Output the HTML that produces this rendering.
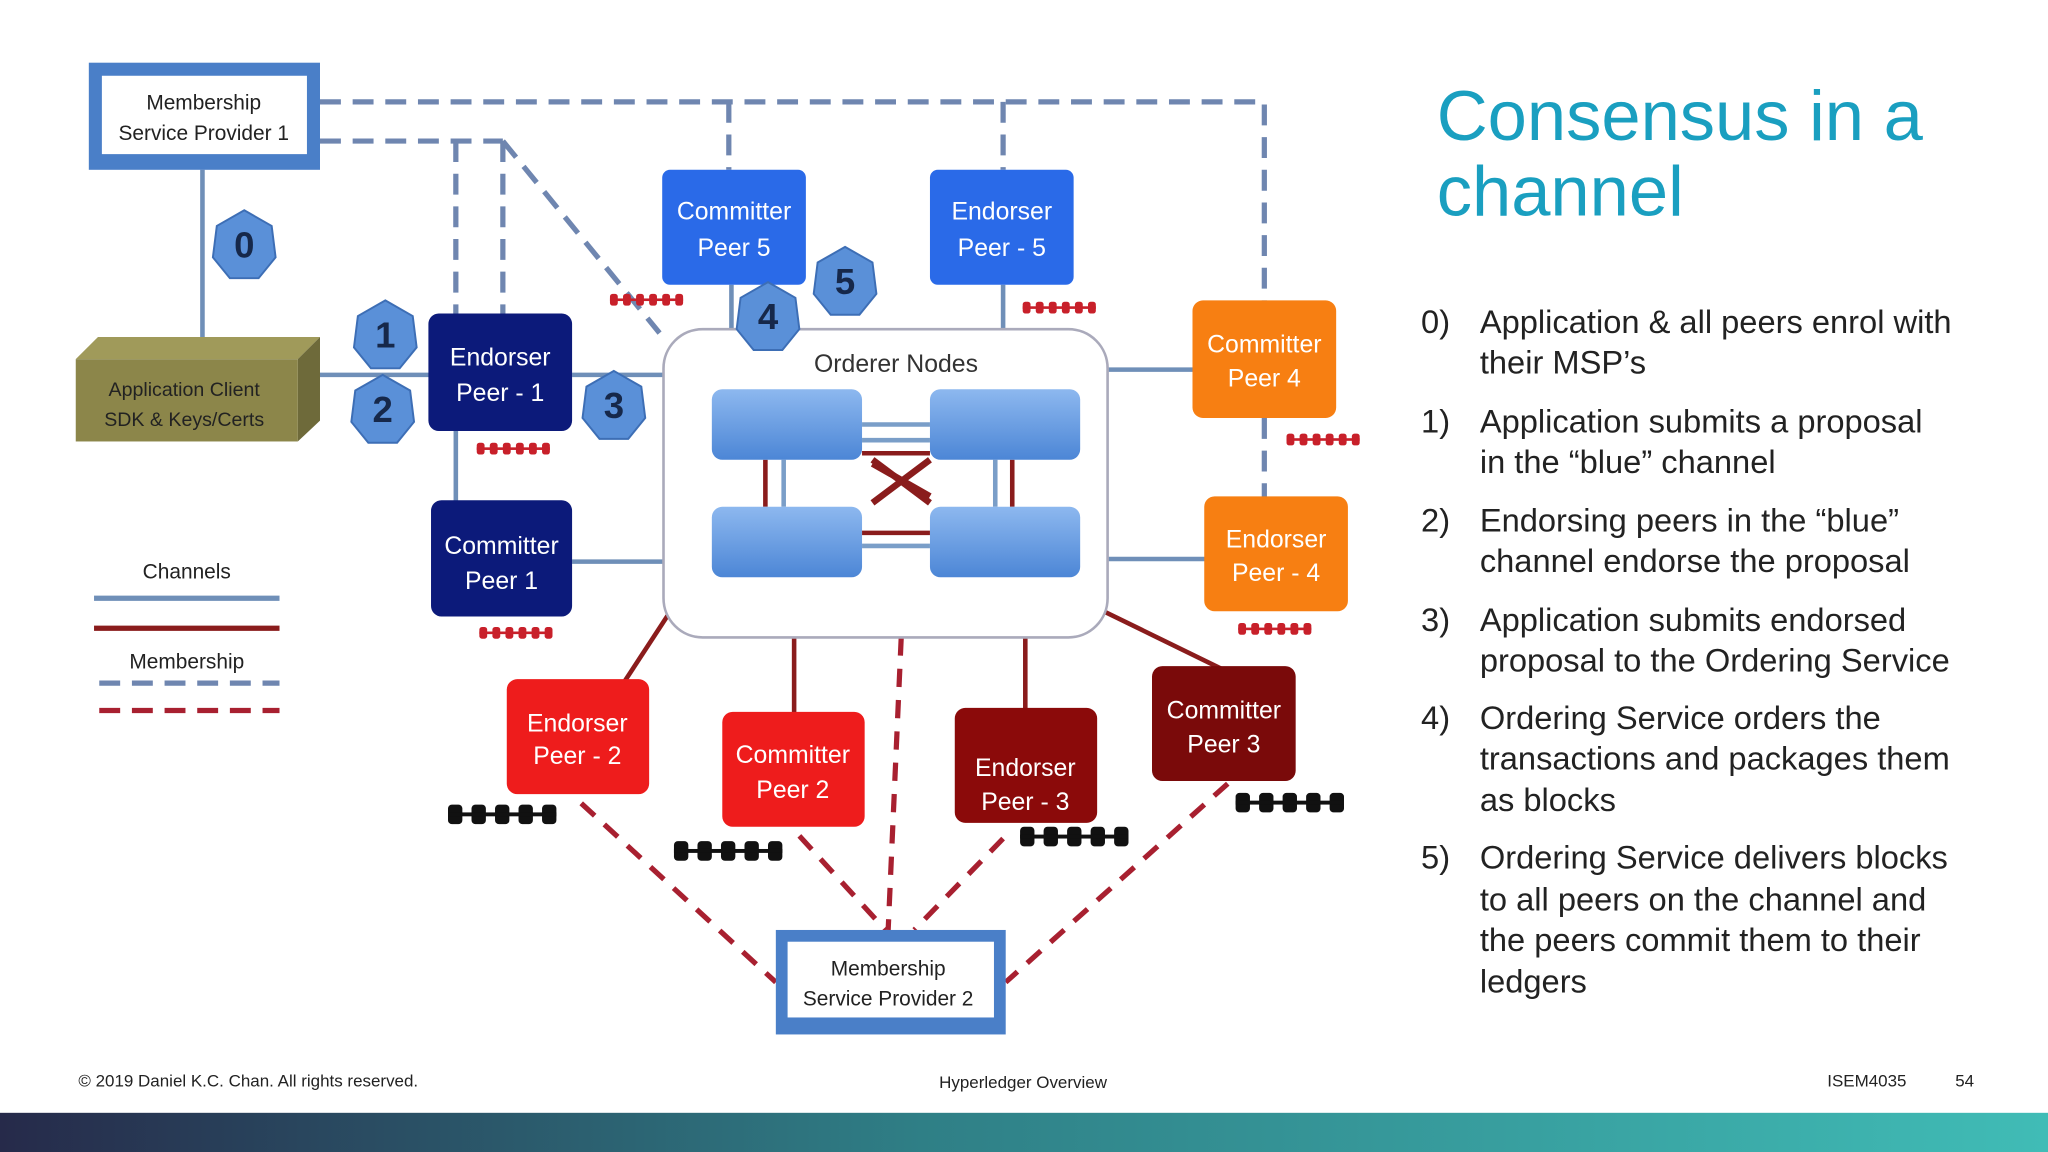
<!DOCTYPE html>
<html><head><meta charset="utf-8"><style>
html,body{margin:0;padding:0;background:#fff;}
svg{display:block}
</style></head><body>
<svg width="2048" height="1152" viewBox="0 0 1568 882" xmlns="http://www.w3.org/2000/svg" font-family="Liberation Sans, sans-serif">
<defs>
<linearGradient id="bar" x1="0" x2="1"><stop offset="0" stop-color="#262a4a"/><stop offset="0.45" stop-color="#2f7f86"/><stop offset="1" stop-color="#40bcb6"/></linearGradient>
<linearGradient id="blk" x1="0" y1="0" x2="0" y2="1"><stop offset="0" stop-color="#8db8ef"/><stop offset="1" stop-color="#4c86d6"/></linearGradient>
<g id="chainR"><g fill="#c8202a"><rect x="0" y="0" width="6" height="9" rx="2"/><rect x="10" y="0" width="6" height="9" rx="2"/><rect x="20" y="0" width="6" height="9" rx="2"/><rect x="30" y="0" width="6" height="9" rx="2"/><rect x="40" y="0" width="6" height="9" rx="2"/><rect x="50" y="0" width="6" height="9" rx="2"/><rect x="0" y="3.5" width="56" height="2"/></g></g>
<g id="chainB"><g fill="#111"><rect x="0" y="0" width="11" height="15" rx="3"/><rect x="18" y="0" width="11" height="15" rx="3"/><rect x="36" y="0" width="11" height="15" rx="3"/><rect x="54" y="0" width="11" height="15" rx="3"/><rect x="72" y="0" width="11" height="15" rx="3"/><rect x="0" y="6" width="83" height="3"/></g></g>
<g id="hex"><polygon points="0,-26 21,-14 24,10 11,26 -11,26 -24,10 -21,-14" fill="#5a90d8" stroke="#3d6eb5" stroke-width="1.5"/></g>
</defs>

<!-- blue dashed membership lines -->
<g stroke="#6f86b0" stroke-width="4" stroke-dasharray="16,9" fill="none">
<path d="M245 78 H968 V232"/>
<path d="M245 108 H385"/>
<path d="M349 108 V240"/>
<path d="M385 108 V240"/>
<path d="M385 108 L505 255"/>
<path d="M558 78 V130"/>
<path d="M768 78 V130"/>
<path d="M968 320 V382"/>
</g>

<!-- solid channel lines -->
<g stroke="#6f8fb8" stroke-width="3.5" fill="none">
<path d="M155 130 V258"/>
<path d="M245 287 H330"/>
<path d="M438 287 H510"/>
<path d="M438 430 H510"/>
<path d="M848 283 H915"/>
<path d="M848 428 H924"/>
<path d="M768 218 V254"/>
<path d="M560 218 V254"/>
<path d="M349 330 V385"/>
</g>
<g stroke="#8a1c1c" stroke-width="3.5" fill="none">
<path d="M512 470 L478 522"/>
<path d="M608 488 V546"/>
<path d="M785 488 V544"/>
<path d="M845 468 L935 512"/>
</g>
<!-- red dashed to MSP2 -->
<g stroke="#a82030" stroke-width="4" stroke-dasharray="14,10" fill="none">
<path d="M445 615 L594 752"/>
<path d="M612 640 L678 712"/>
<path d="M690 488 L680 712"/>
<path d="M768 642 L700 712"/>
<path d="M940 600 L770 752"/>
</g>

<!-- MSP1 -->
<rect x="68" y="48" width="177" height="82" fill="#4a7fc8"/>
<rect x="78" y="58" width="157" height="60" fill="#fff"/>
<text x="156" y="84" font-size="16" text-anchor="middle" fill="#222">Membership</text>
<text x="156" y="107" font-size="16" text-anchor="middle" fill="#222">Service Provider 1</text>

<!-- App client box -->
<polygon points="58,275 75,258 245,258 228,275" fill="#a09a5a"/>
<polygon points="228,275 245,258 245,322 228,338" fill="#6e6a3a"/>
<rect x="58" y="275" width="170" height="63" fill="#8c864a"/>
<text x="141" y="303" font-size="15" text-anchor="middle" fill="#222">Application Client</text>
<text x="141" y="326" font-size="15" text-anchor="middle" fill="#222">SDK &amp; Keys/Certs</text>

<!-- orderer -->
<rect x="508" y="252" width="340" height="236" rx="30" fill="#fff" stroke="#aab" stroke-width="2"/>
<text x="686" y="285" font-size="19" text-anchor="middle" fill="#333">Orderer Nodes</text>
<g stroke-width="3.5">
<path d="M660 325 H712 M660 337 H712" stroke="#7a9ec8"/>
<path d="M660 347 H712 M660 408 H712" stroke="#8a1c1c"/>
<path d="M660 418 H712" stroke="#7a9ec8"/>
<path d="M586 352 V388 M775 352 V388" stroke="#8a1c1c"/>
<path d="M600 352 V388 M762 352 V388" stroke="#7a9ec8"/>
<path d="M668 355 L712 380 M668 385 L712 352" stroke="#8a1c1c" stroke-width="5"/>
<path d="M668 352 L712 385" stroke="#8a1c1c" stroke-width="5"/>
</g>
<rect x="545" y="298" width="115" height="54" rx="8" fill="url(#blk)"/>
<rect x="712" y="298" width="115" height="54" rx="8" fill="url(#blk)"/>
<rect x="545" y="388" width="115" height="54" rx="8" fill="url(#blk)"/>
<rect x="712" y="388" width="115" height="54" rx="8" fill="url(#blk)"/>

<!-- peers -->
<g font-size="19" text-anchor="middle" fill="#fff">
<rect x="328" y="240" width="110" height="90" rx="8" fill="#0c1a7a"/>
<text x="383" y="280">Endorser</text><text x="383" y="307">Peer - 1</text>
<rect x="330" y="383" width="108" height="89" rx="8" fill="#0c1a7a"/>
<text x="384" y="424">Committer</text><text x="384" y="451">Peer 1</text>
<rect x="507" y="130" width="110" height="88" rx="6" fill="#2a6ae8"/>
<text x="562" y="168">Committer</text><text x="562" y="196">Peer 5</text>
<rect x="712" y="130" width="110" height="88" rx="6" fill="#2a6ae8"/>
<text x="767" y="168">Endorser</text><text x="767" y="196">Peer - 5</text>
<rect x="913" y="230" width="110" height="90" rx="8" fill="#f77f12"/>
<text x="968" y="270">Committer</text><text x="968" y="296">Peer 4</text>
<rect x="922" y="380" width="110" height="88" rx="8" fill="#f77f12"/>
<text x="977" y="419">Endorser</text><text x="977" y="445">Peer - 4</text>
<rect x="388" y="520" width="109" height="88" rx="8" fill="#ee1c1c"/>
<text x="442" y="560">Endorser</text><text x="442" y="585">Peer - 2</text>
<rect x="553" y="545" width="109" height="88" rx="8" fill="#ee1c1c"/>
<text x="607" y="584">Committer</text><text x="607" y="611">Peer 2</text>
<rect x="731" y="542" width="109" height="88" rx="8" fill="#8b0a0a"/>
<text x="785" y="594">Endorser</text><text x="785" y="620">Peer - 3</text>
<rect x="882" y="510" width="110" height="88" rx="8" fill="#7a0a0a"/>
<text x="937" y="550">Committer</text><text x="937" y="576">Peer 3</text>
</g>

<!-- chains -->
<use href="#chainR" x="467" y="225"/>
<use href="#chainR" x="783" y="231"/>
<use href="#chainR" x="365" y="339"/>
<use href="#chainR" x="367" y="480"/>
<use href="#chainR" x="985" y="332"/>
<use href="#chainR" x="948" y="477"/>
<use href="#chainB" x="343" y="616"/>
<use href="#chainB" x="516" y="644"/>
<use href="#chainB" x="781" y="633"/>
<use href="#chainB" x="946" y="607"/>

<!-- hexes -->
<g font-size="28" font-weight="bold" text-anchor="middle" fill="#16284a">
<use href="#hex" x="187" y="187"/><text x="187" y="197">0</text>
<use href="#hex" x="295" y="256"/><text x="295" y="266">1</text>
<use href="#hex" x="293" y="313"/><text x="293" y="323">2</text>
<use href="#hex" x="470" y="310"/><text x="470" y="320">3</text>
<use href="#hex" x="588" y="242"/><text x="588" y="252">4</text>
<use href="#hex" x="647" y="215"/><text x="647" y="225">5</text>
</g>

<!-- MSP2 -->
<rect x="594" y="712" width="176" height="80" fill="#4a7fc8"/>
<rect x="603" y="721" width="158" height="58" fill="#fff"/>
<text x="680" y="747" font-size="16" text-anchor="middle" fill="#222">Membership</text>
<text x="680" y="770" font-size="16" text-anchor="middle" fill="#222">Service Provider 2</text>

<!-- legend -->
<text x="143" y="443" font-size="16" text-anchor="middle" fill="#222">Channels</text>
<path d="M72 458 H214" stroke="#6f8fb8" stroke-width="4"/>
<path d="M72 481 H214" stroke="#8a1c1c" stroke-width="4"/>
<text x="143" y="512" font-size="16" text-anchor="middle" fill="#222">Membership</text>
<path d="M76 523 H214" stroke="#6f86b0" stroke-width="4" stroke-dasharray="16,9"/>
<path d="M76 544 H214" stroke="#a82030" stroke-width="4" stroke-dasharray="16,9"/>

<!-- right text -->
<g fill="#1a9fc0" font-size="54"><text x="1100" y="107">Consensus in a</text><text x="1100" y="165">channel</text></g>
<g fill="#222" font-size="25">
<text x="1088" y="255">0)</text><text x="1133" y="255">Application &amp; all peers enrol with</text><text x="1133" y="286">their MSP’s</text>
<text x="1088" y="331">1)</text><text x="1133" y="331">Application submits a proposal</text><text x="1133" y="362">in the “blue” channel</text>
<text x="1088" y="407">2)</text><text x="1133" y="407">Endorsing peers in the “blue”</text><text x="1133" y="438">channel endorse the proposal</text>
<text x="1088" y="483">3)</text><text x="1133" y="483">Application submits endorsed</text><text x="1133" y="514">proposal to the Ordering Service</text>
<text x="1088" y="558">4)</text><text x="1133" y="558">Ordering Service orders the</text><text x="1133" y="589">transactions and packages them</text><text x="1133" y="621">as blocks</text>
<text x="1088" y="665">5)</text><text x="1133" y="665">Ordering Service delivers blocks</text><text x="1133" y="697">to all peers on the channel and</text><text x="1133" y="728">the peers commit them to their</text><text x="1133" y="760">ledgers</text>
</g>

<!-- footer -->
<g font-size="13" fill="#222">
<text x="60" y="832">© 2019  Daniel K.C. Chan. All rights reserved.</text>
<text x="719" y="833">Hyperledger Overview</text>
<text x="1399" y="832">ISEM4035</text>
<text x="1497" y="832">54</text>
</g>
<rect x="0" y="852" width="1568" height="30" fill="url(#bar)"/>
</svg>
</body></html>
